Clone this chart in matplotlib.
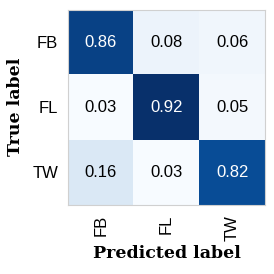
import numpy as np
import matplotlib
matplotlib.use("Agg")
import matplotlib.pyplot as plt

classes = ["FB", "FL", "TW"]
cm = np.array([
    [0.86, 0.08, 0.06],
    [0.03, 0.92, 0.05],
    [0.16, 0.03, 0.82],
])

plt.rcParams['font.family'] = ['Liberation Sans', 'DejaVu Sans']

fig = plt.figure(figsize=(2.74, 2.74), dpi=100)
ax = fig.add_axes([68/274, 1 - 205/274, 197/274, 195.5/274])
im = ax.imshow(cm, cmap="Blues", aspect="auto")
thresh = (cm.max() + cm.min()) / 2
for i in range(cm.shape[0]):
    for j in range(cm.shape[1]):
        ax.text(j, i, f"{cm[i, j]:.2f}", ha="center", va="center",
                fontsize=12, color="white" if cm[i, j] > thresh else "black")

ax.set_xticks(range(len(classes)))
ax.set_yticks(range(len(classes)))
ax.set_xticklabels(classes, rotation=90, fontsize=12)
ax.set_yticklabels(classes, fontsize=12)
ax.tick_params(length=0, pad=7)
for s in ax.spines.values():
    s.set_color("#d0d0d0")
    s.set_linewidth(0.8)
ax.set_xlabel("Predicted label", fontfamily="DejaVu Serif", fontweight="bold",
              fontsize=12.5, labelpad=3)
ax.set_ylabel("True label", fontfamily="DejaVu Serif", fontweight="bold",
              fontsize=12.5, labelpad=6)

fig.savefig("out.png", dpi=100)
